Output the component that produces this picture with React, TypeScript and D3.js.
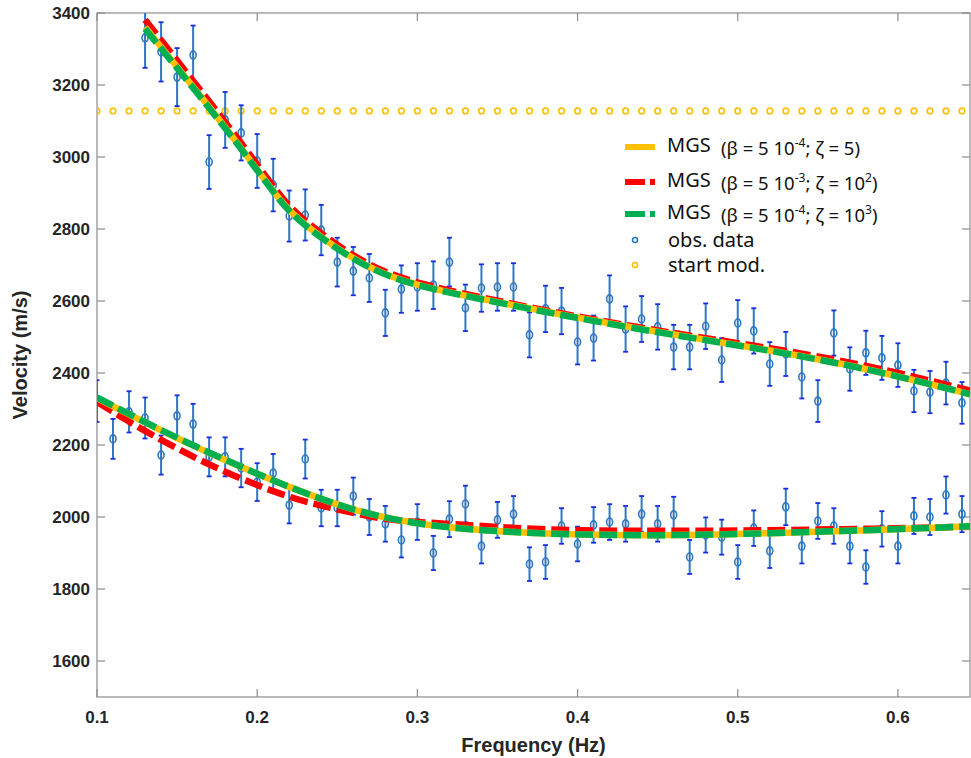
import React, { useEffect, useRef } from 'react';
import * as d3 from 'd3';

// observed dispersion data (frequency in Hz, velocity in m/s)
const upperFreq = [0.13, 0.14, 0.15, 0.16, 0.17, 0.18, 0.19, 0.2, 0.21, 0.22, 0.23, 0.24, 0.25, 0.26, 0.27, 0.28, 0.29, 0.3, 0.31, 0.32, 0.33, 0.34, 0.35, 0.36, 0.37, 0.38, 0.39, 0.4, 0.41, 0.42, 0.43, 0.44, 0.45, 0.46, 0.47, 0.48, 0.49, 0.5, 0.51, 0.52, 0.53, 0.54, 0.55, 0.56, 0.57, 0.58, 0.59, 0.6, 0.61, 0.62, 0.63, 0.64];
const upperObs = [3331, 3292, 3222, 3283, 2986, 3103, 3067, 2989, 2922, 2836, 2839, 2797, 2708, 2683, 2664, 2567, 2633, 2639, 2644, 2708, 2581, 2636, 2639, 2639, 2506, 2578, 2572, 2486, 2497, 2606, 2522, 2550, 2528, 2472, 2472, 2530, 2436, 2539, 2517, 2425, 2453, 2389, 2322, 2511, 2411, 2456, 2442, 2422, 2350, 2347, 2372, 2317];

const lowerFreq = [0.1, 0.11, 0.12, 0.13, 0.14, 0.15, 0.16, 0.17, 0.18, 0.19, 0.2, 0.21, 0.22, 0.23, 0.24, 0.25, 0.26, 0.27, 0.28, 0.29, 0.3, 0.31, 0.32, 0.33, 0.34, 0.35, 0.36, 0.37, 0.38, 0.39, 0.4, 0.41, 0.42, 0.43, 0.44, 0.45, 0.46, 0.47, 0.48, 0.49, 0.5, 0.51, 0.52, 0.53, 0.54, 0.55, 0.56, 0.57, 0.58, 0.59, 0.6, 0.61, 0.62, 0.63, 0.64];
const lowerObs = [2322, 2217, 2292, 2275, 2172, 2281, 2258, 2167, 2167, 2136, 2097, 2122, 2033, 2161, 2025, 2025, 2058, 2000, 1981, 1936, 1986, 1900, 1994, 2036, 1919, 1992, 2008, 1869, 1875, 1975, 1925, 1978, 1986, 1981, 2008, 1981, 2006, 1889, 1950, 1944, 1875, 1969, 1906, 2028, 1919, 1989, 1975, 1919, 1861, 1967, 1919, 2003, 2000, 2061, 2008];

// error bars are about 2.5 % of the value
const relErr = 0.025;

// starting model velocity
const startVel = 3128;

// model curves
const upperModelFreq = [0.13, 0.15, 0.17, 0.19, 0.21, 0.22, 0.24, 0.27, 0.3, 0.34, 0.39, 0.46, 0.52, 0.58, 0.64, 0.645];
const upperYellow = [3361, 3250, 3140, 3025, 2905, 2848, 2775, 2688, 2642, 2606, 2561, 2506, 2464, 2414, 2347, 2341];
const upperRed = [3381, 3268, 3155, 3040, 2918, 2860, 2785, 2695, 2648, 2610, 2564, 2510, 2470, 2423, 2357, 2351];
const upperGreen = [3356, 3247, 3137, 3023, 2903, 2846, 2773, 2687, 2641, 2605, 2560, 2505, 2463, 2413, 2347, 2341];

const lowerModelFreq = [0.1, 0.12, 0.14, 0.16, 0.18, 0.2, 0.22, 0.24, 0.26, 0.28, 0.3, 0.32, 0.36, 0.4, 0.46, 0.52, 0.58, 0.645];
const lowerYellow = [2330, 2285, 2240, 2198, 2158, 2120, 2083, 2050, 2020, 1998, 1982, 1970, 1957, 1951, 1948, 1955, 1963, 1974];
const lowerRed = [2320, 2264, 2214, 2167, 2125, 2088, 2055, 2031, 2011, 1993, 1986, 1981, 1969, 1962, 1961, 1963, 1967, 1973];
const lowerGreen = [2332, 2286, 2241, 2199, 2159, 2120, 2083, 2050, 2020, 1998, 1982, 1970, 1957, 1951, 1948, 1955, 1963, 1974];

const xTicks = [0.1, 0.2, 0.3, 0.4, 0.5, 0.6];
const yTicks = [1600, 1800, 2000, 2200, 2400, 2600, 2800, 3000, 3200, 3400];

const legendLabels = [
  { name: 'MGS', beta: '-4', zeta: '5', zetaSup: '' },
  { name: 'MGS', beta: '-3', zeta: '10', zetaSup: '2' },
  { name: 'MGS', beta: '-4', zeta: '10', zetaSup: '3' },
];

const YELLOW = '#FFC000';
const RED = '#FF0000';
const GREEN = '#00B050';
const BLUE = '#2E78C2';
const CAP = '#1A2BE0';

function App() {
  const svgRef = useRef<SVGSVGElement | null>(null);
  const width = 971;
  const height = 758;

  useEffect(() => {
    const svg = d3.select(svgRef.current);
    svg.selectAll('*').remove();

    const margin = { top: 13, right: 1, bottom: 61, left: 97 };
    const x = d3.scaleLinear().domain([0.1, 0.645]).range([margin.left, width - margin.right]);
    const y = d3.scaleLinear().domain([1500, 3400]).range([height - margin.bottom, margin.top]);

    svg.append('rect').attr('width', width).attr('height', height).attr('fill', '#fff');

    svg.append('defs').append('clipPath').attr('id', 'plot-clip')
      .append('rect')
      .attr('x', margin.left).attr('y', margin.top)
      .attr('width', width - margin.right - margin.left)
      .attr('height', height - margin.bottom - margin.top);

    // axes box, ticks pointing inward
    const axisColor = '#8c8c8c';
    const tickLen = 8;
    const x0 = margin.left, x1 = width - margin.right, y0 = height - margin.bottom, y1 = margin.top;
    const frame = svg.append('g').attr('stroke', axisColor).attr('stroke-width', 1.2).attr('fill', 'none');
    frame.append('rect').attr('x', x0).attr('y', y1).attr('width', x1 - x0).attr('height', y0 - y1);
    xTicks.forEach(t => {
      frame.append('line').attr('x1', x(t)).attr('x2', x(t)).attr('y1', y0).attr('y2', y0 - tickLen);
      frame.append('line').attr('x1', x(t)).attr('x2', x(t)).attr('y1', y1).attr('y2', y1 + tickLen);
    });
    yTicks.forEach(t => {
      frame.append('line').attr('x1', x0).attr('x2', x0 + tickLen).attr('y1', y(t)).attr('y2', y(t));
      frame.append('line').attr('x1', x1).attr('x2', x1 - tickLen).attr('y1', y(t)).attr('y2', y(t));
    });

    const labelFont = '"Liberation Sans", Arial, sans-serif';
    svg.append('g').selectAll('text').data(xTicks).join('text')
      .attr('x', d => x(d)).attr('y', y0 + 26)
      .attr('text-anchor', 'middle')
      .attr('font-family', labelFont).attr('font-weight', 'bold').attr('font-size', 17)
      .attr('fill', '#262626')
      .text(d => d3.format('.1f')(d));

    svg.append('g').selectAll('text').data(yTicks).join('text')
      .attr('x', x0 - 7).attr('y', d => y(d) + 6)
      .attr('text-anchor', 'end')
      .attr('font-family', labelFont).attr('font-weight', 'bold').attr('font-size', 17)
      .attr('fill', '#262626')
      .text(d => d);

    svg.append('text')
      .attr('x', (x0 + x1) / 2).attr('y', 752)
      .attr('text-anchor', 'middle')
      .attr('font-family', labelFont).attr('font-weight', 'bold').attr('font-size', 20)
      .attr('fill', '#262626')
      .text('Frequency (Hz)');

    svg.append('text')
      .attr('transform', `translate(27, ${(y0 + y1) / 2}) rotate(-90)`)
      .attr('text-anchor', 'middle')
      .attr('font-family', labelFont).attr('font-weight', 'bold').attr('font-size', 20)
      .attr('fill', '#262626')
      .text('Velocity (m/s)');

    const plot = svg.append('g').attr('clip-path', 'url(#plot-clip)');

    // start model
    plot.append('g').selectAll('circle').data(lowerFreq).join('circle')
      .attr('cx', d => x(d)).attr('cy', y(startVel)).attr('r', 2.8)
      .attr('fill', 'none').attr('stroke', YELLOW).attr('stroke-width', 1.6);

    // observed data with error bars
    const obs = [
      ...upperFreq.map((f, i) => ({ f, v: upperObs[i] })),
      ...lowerFreq.map((f, i) => ({ f, v: lowerObs[i] })),
    ];
    const bars = plot.append('g');
    bars.selectAll('line.stem').data(obs).join('line').attr('class', 'stem')
      .attr('x1', d => x(d.f)).attr('x2', d => x(d.f))
      .attr('y1', d => y(d.v * (1 - relErr))).attr('y2', d => y(d.v * (1 + relErr)))
      .attr('stroke', BLUE).attr('stroke-width', 2);
    bars.selectAll('line.capt').data(obs).join('line').attr('class', 'capt')
      .attr('x1', d => x(d.f) - 2.5).attr('x2', d => x(d.f) + 2.5)
      .attr('y1', d => y(d.v * (1 + relErr))).attr('y2', d => y(d.v * (1 + relErr)))
      .attr('stroke', CAP).attr('stroke-width', 1.8);
    bars.selectAll('line.capb').data(obs).join('line').attr('class', 'capb')
      .attr('x1', d => x(d.f) - 2.5).attr('x2', d => x(d.f) + 2.5)
      .attr('y1', d => y(d.v * (1 - relErr))).attr('y2', d => y(d.v * (1 - relErr)))
      .attr('stroke', CAP).attr('stroke-width', 1.8);
    bars.selectAll('ellipse').data(obs).join('ellipse')
      .attr('cx', d => x(d.f)).attr('cy', d => y(d.v)).attr('rx', 3).attr('ry', 4)
      .attr('fill', 'none').attr('stroke', BLUE).attr('stroke-width', 1.6);

    // model curves
    const line = d3.line<[number, number]>()
      .x(d => x(d[0])).y(d => y(d[1]))
      .curve(d3.curveBasis);
    const zipUp = (vals: number[]) => upperModelFreq.map((f, i) => [f, vals[i]] as [number, number]);
    const zipLo = (vals: number[]) => lowerModelFreq.map((f, i) => [f, vals[i]] as [number, number]);

    const curves = [
      { data: zipUp(upperRed), color: RED, dash: '18,6' },
      { data: zipLo(lowerRed), color: RED, dash: '18,6' },
      { data: zipUp(upperYellow), color: YELLOW, dash: null },
      { data: zipLo(lowerYellow), color: YELLOW, dash: null },
      { data: zipUp(upperGreen), color: GREEN, dash: '18,6' },
      { data: zipLo(lowerGreen), color: GREEN, dash: '18,6' },
    ];
    curves.forEach(c => {
      plot.append('path')
        .attr('d', line(c.data))
        .attr('fill', 'none')
        .attr('stroke', c.color)
        .attr('stroke-width', 6.5)
        .attr('stroke-dasharray', c.dash)
        .attr('stroke-linejoin', 'round');
    });

    // legend
    const legendFont = '"Noto Sans", "Open Sans", sans-serif';
    const lg = svg.append('g');
    const rowY = [145, 180, 212];
    const sampleColors = [YELLOW, RED, GREEN];
    legendLabels.forEach((lab, i) => {
      lg.append('line')
        .attr('x1', 625).attr('x2', 655).attr('y1', rowY[i] + 2).attr('y2', rowY[i] + 2)
        .attr('stroke', sampleColors[i]).attr('stroke-width', 6)
        .attr('stroke-dasharray', i === 0 ? null : '20,5');
      lg.append('text')
        .attr('x', 667).attr('y', rowY[i] + 7)
        .attr('font-family', legendFont).attr('font-size', 20).attr('fill', '#111')
        .text(lab.name);
      const t = lg.append('text')
        .attr('x', 721).attr('y', rowY[i] + 10)
        .attr('font-family', legendFont).attr('font-size', 18.5).attr('fill', '#111');
      t.append('tspan').text('(β = 5 10');
      t.append('tspan').attr('font-size', 12).attr('dy', -8).text(lab.beta);
      t.append('tspan').attr('dy', 8).text('; ζ = ' + lab.zeta);
      if (lab.zetaSup) {
        t.append('tspan').attr('font-size', 12).attr('dy', -8).text(lab.zetaSup);
        t.append('tspan').attr('dy', 8).text(')');
      } else {
        t.append('tspan').text(')');
      }
    });
    lg.append('circle').attr('cx', 635).attr('cy', 240).attr('r', 2.5)
      .attr('fill', 'none').attr('stroke', BLUE).attr('stroke-width', 1.6);
    lg.append('text').attr('x', 668).attr('y', 247)
      .attr('font-family', legendFont).attr('font-size', 20).attr('fill', '#111')
      .text('obs. data');
    lg.append('circle').attr('cx', 635).attr('cy', 265).attr('r', 2.5)
      .attr('fill', 'none').attr('stroke', YELLOW).attr('stroke-width', 1.6);
    lg.append('text').attr('x', 668).attr('y', 272)
      .attr('font-family', legendFont).attr('font-size', 20).attr('fill', '#111')
      .text('start mod.');
  }, []);

  return (
    <svg
      ref={svgRef}
      width={width}
      height={height}
      style={{ position: 'absolute', left: 0, top: 0, display: 'block' }}
    />
  );
}

export default App;
